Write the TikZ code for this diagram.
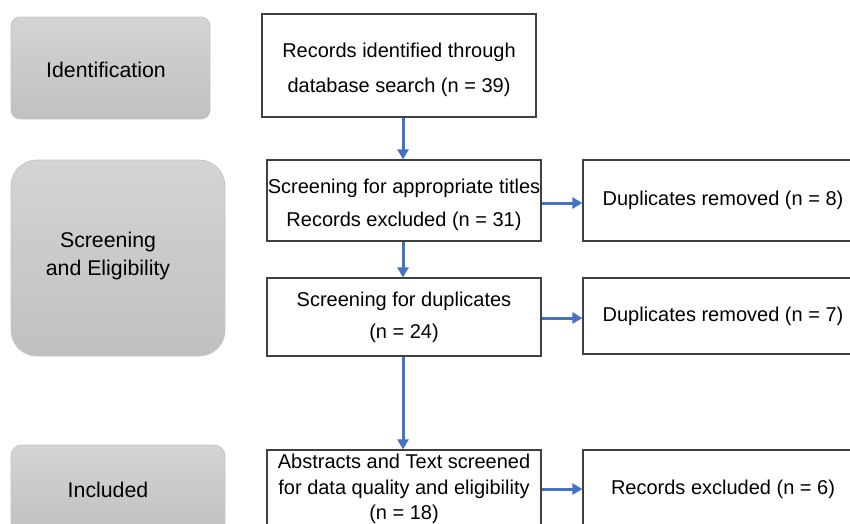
\documentclass[tikz,border=0pt]{standalone}
\usepackage{fontspec}
\setmainfont{Liberation Sans}
\usetikzlibrary{arrows.meta}
\definecolor{flowblue}{HTML}{4472C4}
\definecolor{boxline}{HTML}{404040}
\definecolor{stagetop}{HTML}{D4D4D4}
\definecolor{stagebot}{HTML}{C0C0C0}
\definecolor{stageline}{HTML}{C4C4C4}
\tikzset{
  stage/.style={draw=stageline, line width=0.8pt, top color=stagetop, bottom color=stagebot,
    inner sep=0pt},
  stagetext/.style={align=center, inner sep=0pt, font=\fontsize{21.3}{28}\selectfont},
  flowbox/.style={draw=boxline, line width=1.2pt, fill=white, inner sep=0pt,
    align=center, minimum width=274pt},
  flowtext/.style={align=center, inner sep=0pt},
  sidebox/.style={draw=boxline, line width=1.2pt, fill=white, inner sep=0pt,
    align=center, minimum width=280pt, font=\fontsize{20}{24}\selectfont},
  flowarrow/.style={draw=flowblue, line width=3pt,
    -{Triangle[length=10pt,width=11pt]}}
}
\begin{document}
\begin{tikzpicture}[x=1pt,y=-1pt]
\useasboundingbox (0,0) rectangle (850,523);

% stage labels on the left
\node[stage, rounded corners=9pt, minimum width=199pt, minimum height=102pt]
  (ident) at (110.5,68) {};
\node[stagetext] (identtxt) at (106,70) {Identification};
\node[stage, rounded corners=26pt, minimum width=214pt, minimum height=196pt]
  (screen) at (118,258) {};
\node[stagetext] (screentxt) at (108,256) {Screening\\and Eligibility};
\node[stage, rounded corners=11pt, minimum width=214pt, minimum height=90pt]
  (incl) at (118,490) {};
\node[stagetext] (incltxt) at (108,490) {Included};

% main flow
\node[flowbox, minimum height=103pt] (records) at (399,65.5) {};
\node[flowtext, font=\fontsize{20}{35}\selectfont] (recordstxt) at (399,70)
  {Records identified through\\database search (n = 39)};
\node[flowbox, minimum height=81pt] (titles) at (404,200.5) {};
\node[flowtext, font=\fontsize{20}{33}\selectfont] (titlestxt) at (404,205)
  {Screening for appropriate titles\\Records excluded (n = 31)};
\node[flowbox, minimum height=78pt, font=\fontsize{20}{32}\selectfont]
  (dups) at (404,317) {Screening for duplicates\\(n = 24)};
\node[flowbox, minimum height=78pt, font=\fontsize{20}{25.5}\selectfont]
  (abstracts) at (404,489) {Abstracts and Text screened\\for data quality and eligibility\\(n = 18)};

% removed / excluded records
\node[sidebox, minimum height=81pt] (rem8) at (723,200.5) {Duplicates removed (n = 8)};
\node[sidebox, minimum height=76pt] (rem7) at (723,316) {Duplicates removed (n = 7)};
\node[sidebox, minimum height=78pt] (excl6) at (723,489) {Records excluded (n = 6)};

% connectors
\draw[flowarrow] (records.south -| 403,0) -- (titles.north -| 403,0);
\draw[flowarrow] (titles.south -| 403,0) -- (dups.north -| 403,0);
\draw[flowarrow] (dups.south -| 403,0) -- (abstracts.north -| 403,0);
\draw[flowarrow] (titles.east |- 0,203) -- (rem8.west |- 0,203);
\draw[flowarrow] (dups.east |- 0,318) -- (rem7.west |- 0,318);
\draw[flowarrow] (abstracts.east |- 0,489) -- (excl6.west |- 0,489);
\end{tikzpicture}
\end{document}
